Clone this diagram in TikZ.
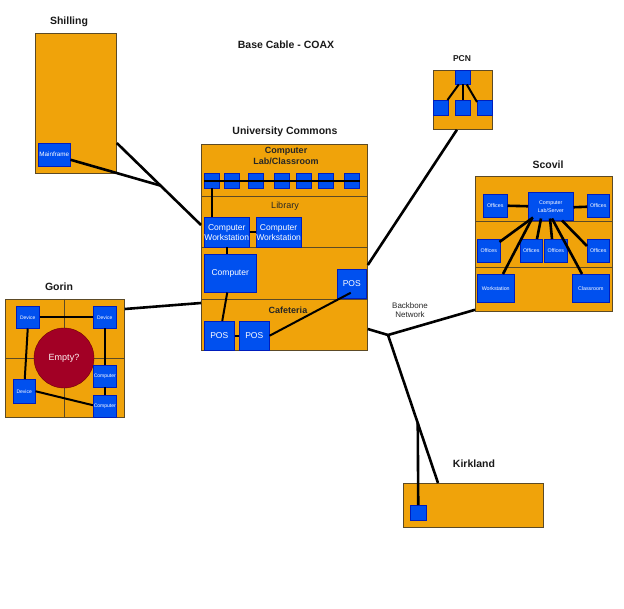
\documentclass[tikz,border=0pt]{standalone}
\usepackage{fontspec}
\setmainfont{Liberation Sans}
\usetikzlibrary{calc}
\definecolor{bldorange}{HTML}{F0A30A}
\definecolor{bldline}{HTML}{5C4A26}
\definecolor{devblue}{HTML}{0050EF}
\definecolor{devline}{HTML}{001DBC}
\definecolor{emptyred}{HTML}{A20025}
\definecolor{emptyline}{HTML}{6F0000}
\tikzset{
  bld/.style={draw=bldline, fill=bldorange, line width=0.8pt, inner sep=0pt, anchor=north west},
  dev/.style={draw=devline, fill=devblue, line width=0.5pt, inner sep=0pt, anchor=north west, text=white, align=center},
  divider/.style={draw=bldline, line width=0.8pt},
  link/.style={draw=black, line width=2.6pt},
  thinlink/.style={draw=black, line width=2pt},
  ttl/.style={font=\fontsize{10.5}{12}\selectfont\bfseries, text=black!90},
  lbl/.style={font=\fontsize{8.5}{10}\selectfont, text=black!85, align=center},
}
\begin{document}
\begin{tikzpicture}[x=1pt,y=-1pt]
\useasboundingbox (0,0) rectangle (624,609);

% ---------- Titles ----------
\node[ttl] (tmain) at (286,45) {Base Cable - COAX};
\node[ttl] (tshil) at (69,22) {Shilling};
\node[ttl] (tuc) at (285,132) {University Commons};
\node[ttl, font=\fontsize{8.5}{10}\selectfont\bfseries] (tpcn) at (462,59) {PCN};
\node[ttl] (tscv) at (548,165) {Scovil};
\node[ttl] (tgor) at (59,287) {Gorin};
\node[ttl] (tkirk) at (474,464) {Kirkland};
\node[lbl, font=\fontsize{8}{9.5}\selectfont] (tbb) at (410,310) {Backbone\\Network};

% ---------- Shilling ----------
\node[bld, minimum width=81pt, minimum height=140pt] (shil) at (35,33) {};
\node[dev, minimum width=32pt, minimum height=23pt, font=\fontsize{6.3}{7}\selectfont] (mf) at (38,143) {Mainframe};

% ---------- University Commons ----------
\node[bld, minimum width=166pt, minimum height=206pt] (uc) at (201,144) {};
\draw[divider] (201,196) -- (367,196);
\draw[divider] (201,247) -- (367,247);
\draw[divider] (201,299) -- (367,299);
\node[lbl, font=\fontsize{9}{10.5}\selectfont\bfseries] (tlab) at (286,156) {Computer\\Lab/Classroom};
\node[lbl, font=\fontsize{9}{10}\selectfont] (tlib) at (285,206) {Library};
\node[lbl, font=\fontsize{9}{10}\selectfont\bfseries] (tcaf) at (288,310) {Cafeteria};
\foreach \i/\x in {1/204,2/224,3/248,4/274,5/296,6/318,7/344}{
  \node[dev, minimum width=15pt, minimum height=15pt] (sq\i) at (\x,173) {};
}
\node[dev, minimum width=45pt, minimum height=30pt, font=\fontsize{8.5}{10}\selectfont] (ws1) at (204,217) {Computer\\Workstation};
\node[dev, minimum width=44pt, minimum height=30pt, font=\fontsize{8.5}{10}\selectfont] (ws2) at (256,217) {Computer\\Workstation};
\node[dev, minimum width=52pt, minimum height=38pt, font=\fontsize{8.5}{10}\selectfont] (comp) at (204,254) {Computer};
\node[dev, minimum width=29pt, minimum height=29pt, font=\fontsize{8.5}{10}\selectfont] (posR) at (337,269) {POS};
\node[dev, minimum width=30pt, minimum height=29pt, font=\fontsize{8.5}{10}\selectfont] (pos1) at (204,321) {POS};
\node[dev, minimum width=30pt, minimum height=29pt, font=\fontsize{8.5}{10}\selectfont] (pos2) at (239,321) {POS};

\draw[thinlink] (sq1.west) -- (sq7.east);
\draw[thinlink] (sq1.south) -- (sq1.south |- ws1.north);
\draw[thinlink] (ws1.east) -- (ws2.west);
\draw[thinlink] (ws1.south) -- (ws1.south |- comp.north);
\draw[thinlink] ($(comp.south)+(-3,0)$) -- ($(pos1.north)+(3,0)$);
\draw[thinlink] (pos1.east) -- (pos2.west);
\draw[thinlink] (pos2.east) -- ($(posR.center)+(-1,9)$);

% ---------- PCN ----------
\node[bld, minimum width=59pt, minimum height=59pt] (pcn) at (433,70) {};
\node[dev, minimum width=15pt, minimum height=14pt] (pt) at (455,70) {};
\node[dev, minimum width=15pt, minimum height=15pt] (pl) at (433,100) {};
\node[dev, minimum width=15pt, minimum height=15pt] (pm) at (455,100) {};
\node[dev, minimum width=15pt, minimum height=15pt] (pr) at (477,100) {};
\draw[thinlink] ($(pt.south)+(-4,0)$) -- ($(pl.north east)+(-1,0)$);
\draw[thinlink] (pt.south) -- (pm.north);
\draw[thinlink] ($(pt.south)+(4,0)$) -- ($(pr.north west)+(0,2)$);

% ---------- Scovil ----------
\node[bld, minimum width=137pt, minimum height=135pt] (scv) at (475,176) {};
\draw[divider] (475,221) -- (612,221);
\draw[divider] (475,267) -- (612,267);
\tikzset{small/.style={font=\fontsize{5.3}{8}\selectfont}}
\node[dev, small, minimum width=45pt, minimum height=28pt] (lab) at (528,192) {Computer\\Lab/Server};
\node[dev, small, minimum width=24pt, minimum height=23pt] (o1) at (483,194) {Offices};
\node[dev, small, minimum width=22pt, minimum height=23pt] (o2) at (587,194) {Offices};
\node[dev, small, minimum width=23pt, minimum height=23pt] (r1) at (477,239) {Offices};
\node[dev, small, minimum width=22pt, minimum height=23pt] (r2) at (520,239) {Offices};
\node[dev, small, minimum width=23pt, minimum height=23pt] (r3) at (544,239) {Offices};
\node[dev, small, minimum width=22pt, minimum height=23pt] (r4) at (587,239) {Offices};
\node[dev, small, minimum width=37pt, minimum height=28pt] (sws) at (477,274) {Workstation};
\node[dev, small, minimum width=37pt, minimum height=28pt] (cls) at (572,274) {Classroom};
\draw[link] (o1.east) -- (lab.west);
\draw[link] ($(lab.east)+(0,1)$) -- ($(o2.west)+(0,1)$);
\draw[link] ($(lab.south west)+(4,-2)$) -- ($(sws.north west)+(26,0)$);
\draw[link] ($(lab.south west)+(5,-3)$) -- ($(r1.north east)+(-1,3)$);
\draw[link] ($(lab.south west)+(13,-2)$) -- ($(r2.north west)+(17,0)$);
\draw[link] ($(lab.south west)+(22,-2)$) -- ($(r3.north west)+(8,0)$);
\draw[link] ($(lab.south west)+(24,-2)$) -- ($(cls.north west)+(10,0)$);
\draw[link] ($(lab.south west)+(34,0)$) -- ($(r4.north west)+(0,7)$);

% ---------- Gorin ----------
\node[bld, minimum width=119pt, minimum height=118pt] (gor) at (5,299) {};
\draw[divider] (64,299) -- (64,417);
\draw[divider] (5,358) -- (124,358);
\node[circle, draw=emptyline, fill=emptyred, minimum size=60pt, inner sep=0pt, text=white!85!pink, font=\fontsize{9}{10}\selectfont] (empty) at (64,358) {Empty?};
\tikzset{tiny/.style={font=\fontsize{5}{6}\selectfont}}
\node[dev, tiny, minimum width=23pt, minimum height=22pt] (dTL) at (16,306) {Device};
\node[dev, tiny, minimum width=23pt, minimum height=22pt] (dTR) at (93,306) {Device};
\node[dev, tiny, minimum width=23pt, minimum height=22pt] (c1) at (93,365) {Computer};
\node[dev, tiny, minimum width=23pt, minimum height=22pt] (c2) at (93,395) {Computer};
\node[dev, tiny, minimum width=22pt, minimum height=24pt] (dBL) at (13,379) {Device};
\draw[thinlink] (dTL.east) -- (dTR.west);
\draw[thinlink] (dTL.south) -- ($(dBL.north)+(0.5,0)$);
\draw[thinlink] (dTR.south) -- (c1.north);
\draw[thinlink] (c1.south) -- (c2.north);
\draw[thinlink] (dBL.east) -- ($(c2.west)+(0,-1)$);

% ---------- Kirkland ----------
\node[bld, minimum width=140pt, minimum height=44pt] (kirk) at (403,483) {};
\node[dev, minimum width=16pt, minimum height=15pt] (ksq) at (410,505) {};

% ---------- Backbone ----------
\coordinate (jn) at (388,335);
\coordinate (shA) at ($(shil.north east)+(0,110)$);
\coordinate (ucA) at ($(uc.north west)+(0,81)$);
\coordinate (shJ) at ($(shA)!0.52!(ucA)$);
\coordinate (kirkTop) at ($(kirk.north west)+(35,0)$);
\coordinate (kb) at ($(jn)!0.595!(kirkTop)$);

\draw[link] (shA) -- (ucA);
\draw[link] ($(mf.east)+(0,5)$) -- (shJ);
\draw[link] ($(gor.north east)+(0,10)$) -- ($(uc.north west)+(0,159)$);
\draw[link] ($(uc.north east)+(0,121)$) -- ($(pcn.south)+(-6,0)$);
\draw[link] ($(uc.north east)+(0,185)$) -- (jn);
\draw[link] (jn) -- ($(scv.south west)+(0,-2)$);
\draw[link] (jn) -- (kirkTop);
\draw[link] (kb) -- (ksq.north);
\end{tikzpicture}
\end{document}
